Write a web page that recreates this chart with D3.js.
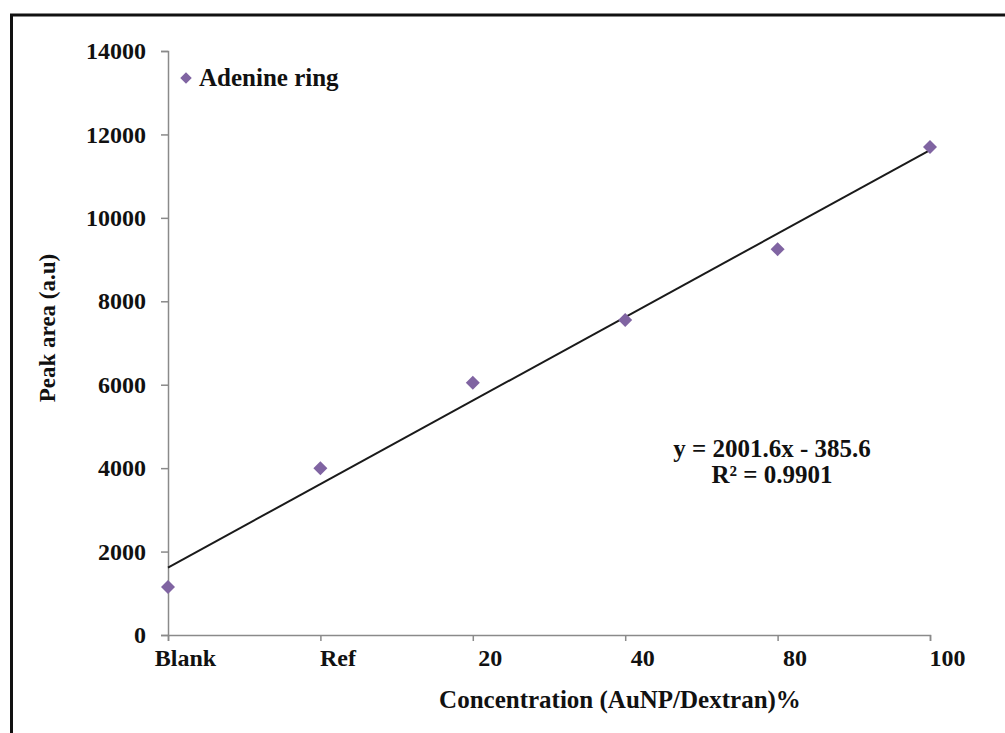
<!DOCTYPE html>
<html>
<head>
<meta charset="utf-8">
<script src="https://cdn.jsdelivr.net/npm/d3@7"></script>
<style>
  body { margin: 0; background: #fff; }
  text { font-family: "Liberation Serif", "Times New Roman", serif; font-weight: bold; fill: #111; }
</style>
</head>
<body>
<svg id="chart"></svg>
<script>
// Data
const categories = ["Blank", "Ref", "20", "40", "80", "100"];
const peakArea = [1150, 4000, 6050, 7550, 9250, 11700];
const yTicks = [0, 2000, 4000, 6000, 8000, 10000, 12000, 14000];
const trend = { slope: 2001.6, intercept: -385.6, r2: "0.9901" };

const W = 1005, H = 733;
const svg = d3.select("#chart").attr("width", W).attr("height", H);

// outer frame (bottom and right run off the picture)
svg.append("rect")
  .attr("x", 11.5).attr("y", 15)
  .attr("width", W + 20).attr("height", H + 20)
  .attr("fill", "none").attr("stroke", "#111").attr("stroke-width", 3);

const x = d3.scalePoint().domain(categories).range([168, 930]);
const y = d3.scaleLinear().domain([0, 14000]).range([635, 51]);

const axisColor = "#8a8a8a";

// Y axis
const gy = svg.append("g")
  .attr("transform", "translate(168,0)")
  .call(d3.axisLeft(y).tickValues(yTicks).tickSize(7).tickPadding(15).tickFormat(d3.format("d")));
gy.selectAll("path, line").attr("stroke", axisColor).attr("stroke-width", 1.5);
gy.selectAll("text").style("font-size", "24px").attr("fill", "#111").style("font-family", null);

// X axis
const gx = svg.append("g")
  .attr("transform", "translate(0,635)")
  .call(d3.axisBottom(x).tickSize(6).tickPadding(8));
gx.selectAll("path, line").attr("stroke", axisColor).attr("stroke-width", 1.5);
gx.selectAll("text").style("font-size", "24px").attr("fill", "#111").attr("dx", 17).style("font-family", null);

// Trendline over the category index 1..n
const idx = d3.scaleLinear().domain([1, categories.length]).range([x(categories[0]), x(categories[categories.length - 1])]);
const trendPts = [1, categories.length].map(i => [idx(i), y(trend.slope * i + trend.intercept)]);
svg.append("path")
  .attr("d", d3.line()(trendPts))
  .attr("fill", "none").attr("stroke", "#1a1a1a").attr("stroke-width", 2);

// Points
const diamond = d3.symbol().type(d3.symbolDiamond2).size(125);
svg.selectAll(".pt")
  .data(categories)
  .enter().append("path")
    .attr("class", "pt")
    .attr("d", diamond)
    .attr("transform", (d, i) => `translate(${x(d)},${y(peakArea[i])})`)
    .attr("fill", "#8064a2");

// Legend
svg.append("path")
  .attr("d", d3.symbol().type(d3.symbolDiamond2).size(85))
  .attr("transform", "translate(186,78)")
  .attr("fill", "#8064a2");
svg.append("text")
  .attr("x", 199).attr("y", 86)
  .style("font-size", "25px")
  .text("Adenine ring");

// Equation
const eq = svg.append("text").attr("text-anchor", "middle").style("font-size", "25px");
eq.append("tspan").attr("x", 772).attr("y", 457)
  .text(`y = ${trend.slope}x - ${Math.abs(trend.intercept)}`);
eq.append("tspan").attr("x", 772).attr("y", 483)
  .text(`R² = ${trend.r2}`);

// Axis titles
svg.append("text")
  .attr("transform", "translate(55,328) rotate(-90)")
  .attr("text-anchor", "middle")
  .style("font-size", "23px")
  .text("Peak area (a.u)");

svg.append("text")
  .attr("x", 620).attr("y", 708)
  .attr("text-anchor", "middle")
  .style("font-size", "25px")
  .text("Concentration (AuNP/Dextran)%");
</script>
</body>
</html>
